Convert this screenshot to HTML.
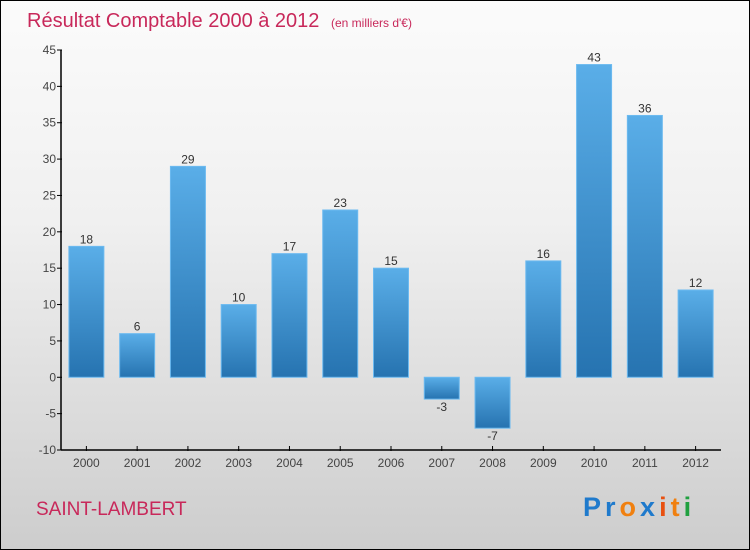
<!DOCTYPE html>
<html><head><meta charset="utf-8"><style>
body{margin:0}
#c{position:relative;width:748px;height:548px;border:1px solid #000;background:linear-gradient(#fbfbfb,#f0f0f0 40%,#cdcdcd);font-family:"Liberation Sans",sans-serif;overflow:hidden}
</style></head><body>
<div id="c">
<svg id="s" width="748" height="548">
<defs><linearGradient id="g" x1="0" y1="0" x2="0" y2="1"><stop offset="0" stop-color="#5aaee8"/><stop offset="1" stop-color="#2673b0"/></linearGradient></defs>
<text x="26" y="26" font-size="20" fill="#c8285a">Résultat Comptable 2000 à 2012 <tspan font-size="12" dx="6">(en milliers d'€)</tspan></text>
<text x="35" y="514" font-size="19" fill="#c8285a">SAINT-LAMBERT</text>
<text x="582" y="515" font-size="27" font-weight="bold" letter-spacing="4"><tspan fill="#1f7acc">Pr</tspan><tspan fill="#f08010">o</tspan><tspan fill="#1f7acc">x</tspan><tspan fill="#e85010">i</tspan><tspan fill="#f08010">t</tspan><tspan fill="#20a040">i</tspan></text>
</svg>
</div>
<script>
const categories=["2000","2001","2002","2003","2004","2005","2006","2007","2008","2009","2010","2011","2012"];
const values=[18,6,29,10,17,23,15,-3,-7,16,43,36,12];
const yTicks=[-10,-5,0,5,10,15,20,25,30,35,40,45];
const s=document.getElementById('s');const NS='http://www.w3.org/2000/svg';
const L=60,R=720,T=49,B=449,ymin=-10,ymax=45;
const y=v=>B-(v-ymin)/(ymax-ymin)*(B-T);
const bw=(R-L)/categories.length;const x=i=>L+bw*(i+0.5);
function mk(t,a){const e=document.createElementNS(NS,t);for(const k in a)e.setAttribute(k,a[k]);s.appendChild(e);return e;}
yTicks.forEach(v=>{
const tk=mk('line',{x1:L-4,x2:L+1,y1:y(v),y2:y(v),stroke:'#000'});


const t=mk('text',{x:L-5,y:y(v)+4,'font-size':12,fill:'#444','text-anchor':'end'});t.textContent=v;


});
values.forEach((v,i)=>{
const top=y(Math.max(v,0)),h=Math.abs(y(v)-y(0));
const r=mk('rect',{x:x(i)-17.5,y:top,width:35,height:h,fill:'url(#g)',stroke:'#6cbaf0','stroke-width':1});


const t=mk('text',{x:x(i),y:v>=0?top-3:y(v)+12,'font-size':12,fill:'#333','text-anchor':'middle'});t.textContent=v;


const tk=mk('line',{x1:x(i),x2:x(i),y1:B-4,y2:B+1,stroke:'#000'});


const c=mk('text',{x:x(i),y:B+17,'font-size':12,fill:'#444','text-anchor':'middle'});c.textContent=categories[i];


});
const ya=mk('line',{x1:L,x2:L,y1:T,y2:B,stroke:'#000','stroke-width':1.5});


const xa=mk('line',{x1:L,x2:R,y1:B,y2:B,stroke:'#000','stroke-width':1.5});


</script>
</body></html>
